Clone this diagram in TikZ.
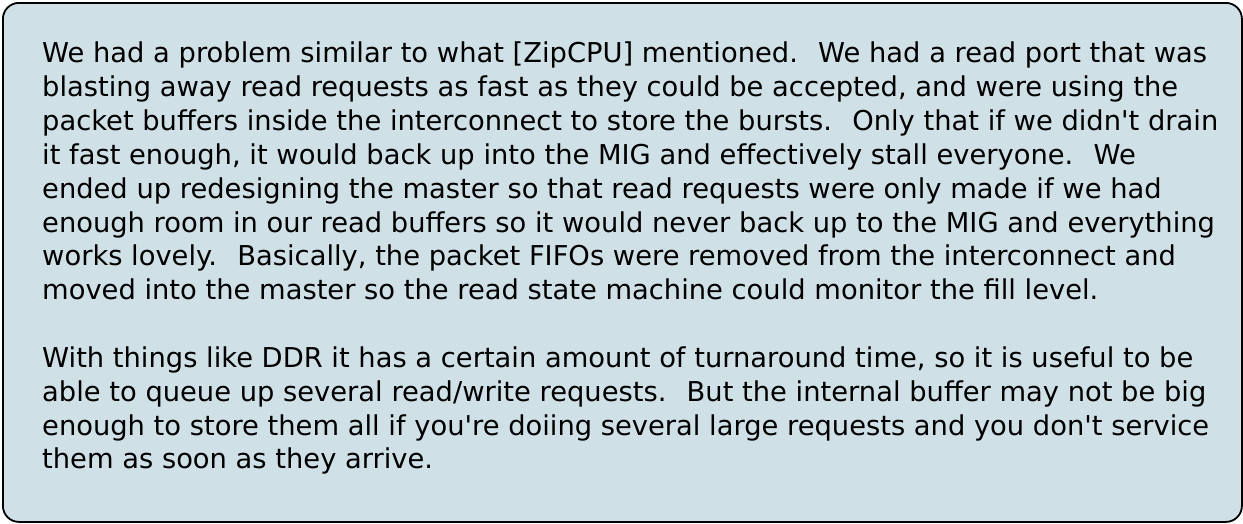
\documentclass[tikz,border=0pt]{standalone}
\usepackage{fontspec}
\setmainfont{DejaVu Sans}
\definecolor{boxfill}{HTML}{D0E0E7}
\begin{document}
\begin{tikzpicture}[x=1pt,y=-1pt,
  txt/.style={anchor=base west,inner sep=0pt,font=\fontsize{27.33}{34}\selectfont}]
\useasboundingbox (0,0) rectangle (1243,523);
\node[draw=black,line width=1.8pt,fill=boxfill,rounded corners=16pt,minimum width=1239pt,minimum height=519pt,inner sep=0pt,anchor=north west] (box) at (2,2) {};
\node[txt] (l1) at (42,62) {We had a problem similar to what [ZipCPU] mentioned.~ We had a read port that was};
\node[txt] (l2) at (42,96) {blasting away read requests as fast as they could be accepted, and were using the};
\node[txt] (l3) at (42,130) {packet buffers inside the interconnect to store the bursts.~ Only that if we didn\textquotesingle t drain};
\node[txt] (l4) at (42,164) {it fast enough, it would back up into the MIG and effectively stall everyone.~ We};
\node[txt] (l5) at (42,198) {ended up redesigning the master so that read requests were only made if we had};
\node[txt] (l6) at (42,232) {enough room in our read buffers so it would never back up to the MIG and everything};
\node[txt] (l7) at (42,265) {works lovely.~ Basically, the packet FIFOs were removed from the interconnect and};
\node[txt] (l8) at (42,299) {moved into the master so the read state machine could monitor the fill level.};
\node[txt] (l9) at (42,367) {With things like DDR it has a certain amount of turnaround time, so it is useful to be};
\node[txt] (l10) at (42,401) {able to queue up several read/write requests.~ But the internal buffer may not be big};
\node[txt] (l11) at (42,435) {enough to store them all if you\textquotesingle re doiing several large requests and you don\textquotesingle t service};
\node[txt] (l12) at (42,468) {them as soon as they arrive.};
\end{tikzpicture}
\end{document}
